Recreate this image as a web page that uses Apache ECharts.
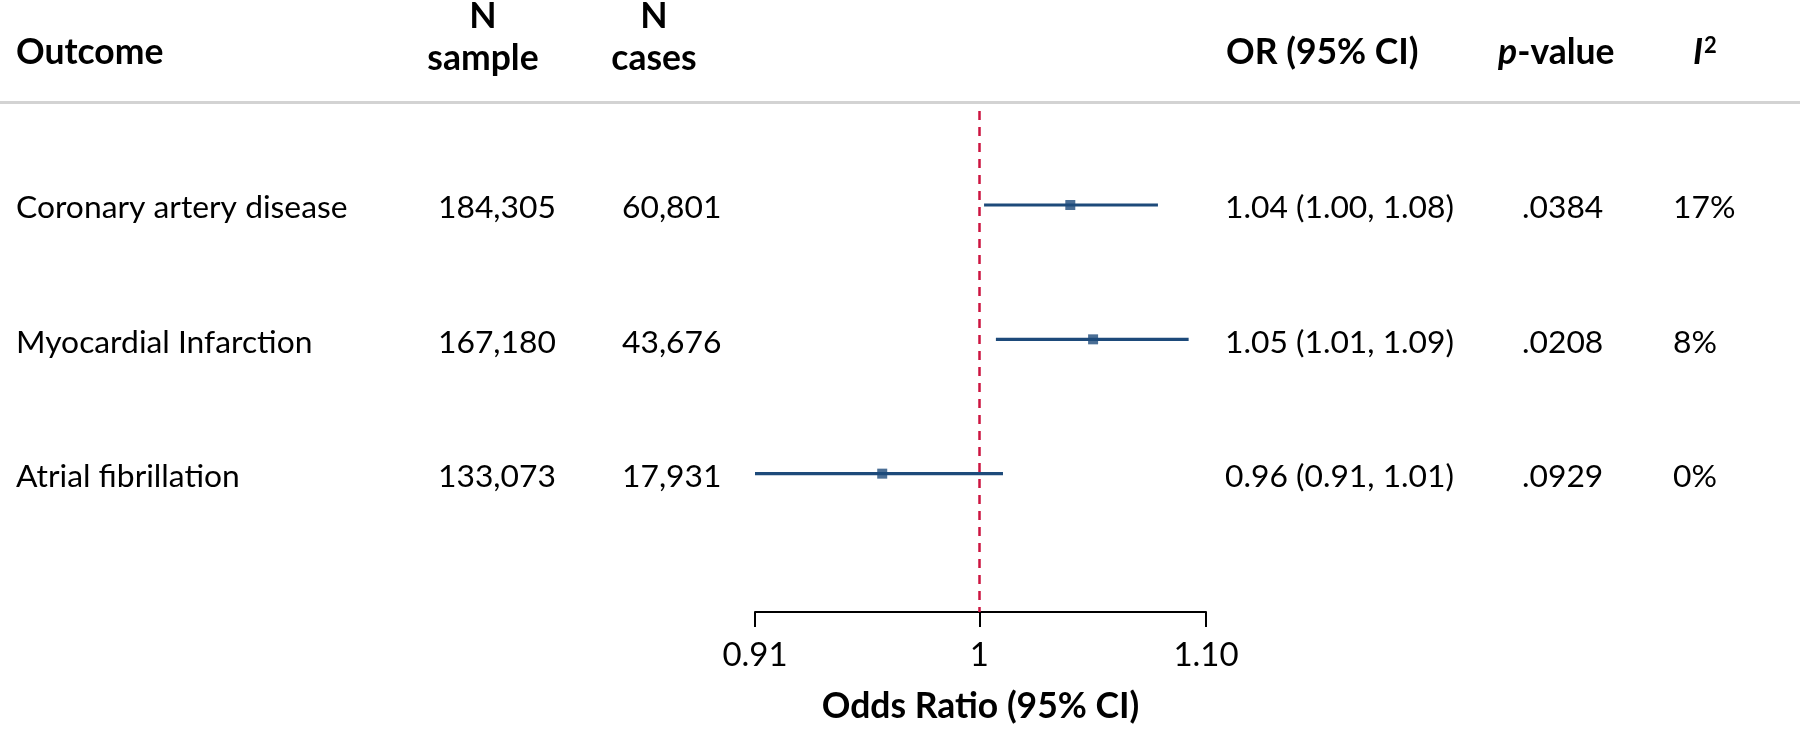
<!DOCTYPE html>
<html>
<head>
<meta charset="utf-8">
<script src="https://cdn.jsdelivr.net/npm/echarts@6/dist/echarts.min.js"></script>
<style>
html,body{margin:0;padding:0;background:#fff;}
#chart{width:1800px;height:730px;}
</style>
</head>
<body>
<div id="chart"></div>
<script>
// ---- data ----
const outcomes = ['Coronary artery disease', 'Myocardial Infarction', 'Atrial fibrillation'];
const nSample = ['184,305', '167,180', '133,073'];
const nCases = ['60,801', '43,676', '17,931'];
const orPoint = [1.039, 1.049, 0.960];
const ciLow = [1.002, 1.007, 0.910];
const ciHigh = [1.078, 1.092, 1.010];
const orText = ['1.04 (1.00, 1.08)', '1.05 (1.01, 1.09)', '0.96 (0.91, 1.01)'];
const pValues = ['.0384', '.0208', '.0929'];
const i2Values = ['17%', '8%', '0%'];
const xTicks = [0.91, 1, 1.10];
const xTickLabels = ['0.91', '1', '1.10'];
const refValue = 1;

// ---- style ----
const FONT = 'Lato';
const FS = 31.8;      // regular text
const FSB = 35.5;     // bold headers
const FSA = 33;       // axis tick labels
const NAVY = '#1d4a7a';
const RED = '#cc1440';

const rowIdx = outcomes.map((_, i) => i + 1);

const colX = { outcome: 16, sample: 438, cases: 622, or: 1225, p: 1522, i2: 1673 };

const chart = echarts.init(document.getElementById('chart'), null, { renderer: 'canvas' });

function txt(x, y, s, extra) {
  return {
    type: 'text', x: x, y: y, silent: true,
    style: Object.assign({ text: s, fill: '#000', font: 'bold ' + FSB + 'px ' + FONT, textAlign: 'left', textVerticalAlign: 'middle' }, extra || {})
  };
}

const option = {
  backgroundColor: '#fff',
  animation: false,
  grid: { left: 755, right: 594, top: 111, bottom: 112, containLabel: false },
  xAxis: {
    type: 'log', logBase: 10, min: 0.91, max: 1.10,
    axisLine: { show: true, lineStyle: { color: '#000', width: 2 } },
    axisTick: { show: true, length: 15, inside: false, lineStyle: { color: '#000', width: 2 }, customValues: xTicks },
    axisLabel: {
      show: true, customValues: xTicks, margin: 27,
      fontFamily: FONT, fontSize: FSA, color: '#000',
      formatter: function (v) {
        let best = 0;
        xTicks.forEach((t, i) => { if (Math.abs(t - v) < Math.abs(xTicks[best] - v)) best = i; });
        return xTickLabels[best];
      }
    },
    splitLine: { show: false },
    minorTick: { show: false },
    name: 'Odds Ratio (95% CI)', nameLocation: 'middle', nameGap: 77,
    nameTextStyle: { fontFamily: FONT, fontWeight: 'bold', fontSize: FSB, color: '#000' }
  },
  yAxis: {
    type: 'value', inverse: true, min: 0.3, max: 4.03, show: false
  },
  graphic: [
    { type: 'rect', shape: { x: 0, y: 101, width: 1800, height: 3 }, style: { fill: '#d3d3d3' }, silent: true },
    txt(colX.outcome, 53, 'Outcome'),
    txt(483, 17, 'N', { textAlign: 'center' }),
    txt(483, 59, 'sample', { textAlign: 'center' }),
    txt(654, 17, 'N', { textAlign: 'center' }),
    txt(654, 59, 'cases', { textAlign: 'center' }),
    txt(1226, 53, 'OR (95% CI)'),
    {
      type: 'text', x: 1498, y: 53, silent: true,
      style: {
        text: '{pi|p}{b|-value}', textAlign: 'left', textVerticalAlign: 'middle',
        rich: {
          pi: { fontFamily: FONT, fontSize: FSB, fontWeight: 'bold', fontStyle: 'italic', fill: '#000' },
          b: { fontFamily: FONT, fontSize: FSB, fontWeight: 'bold', fill: '#000' }
        }
      }
    },
    {
      type: 'text', x: 1693, y: 53, silent: true,
      style: {
        text: '{i|I}{s|2}', textAlign: 'left', textVerticalAlign: 'middle',
        rich: {
          i: { fontFamily: FONT, fontSize: FSB, fontWeight: 'bold', fontStyle: 'italic', fill: '#000' },
          s: { fontFamily: FONT, fontSize: 22, fontWeight: 'bold', fill: '#000', verticalAlign: 'top', padding: [0, 0, 14, 1] }
        }
      }
    }
  ],
  series: [
    {
      type: 'custom', name: 'table',
      data: rowIdx.map(r => [refValue, r]),
      encode: { x: 0, y: 1 },
      clip: false,
      renderItem: function (params, api) {
        const i = params.dataIndex;
        const y = api.coord([api.value(0), api.value(1)])[1] + 3;
        const cells = [
          [colX.outcome, outcomes[i]], [colX.sample, nSample[i]], [colX.cases, nCases[i]],
          [colX.or, orText[i]], [colX.p, pValues[i]], [colX.i2, i2Values[i]]
        ];
        return {
          type: 'group',
          children: cells.map(c => ({
            type: 'text', x: c[0], y: y,
            style: { text: c[1], fill: '#000', font: FS + 'px ' + FONT, textAlign: 'left', textVerticalAlign: 'middle' }
          }))
        };
      }
    },
    {
      type: 'custom', name: 'CI',
      data: rowIdx.map((r, i) => [ciLow[i], ciHigh[i], r]),
      encode: { x: [0, 1], y: 2 },
      renderItem: function (params, api) {
        const p1 = api.coord([api.value(0), api.value(2)]);
        const p2 = api.coord([api.value(1), api.value(2)]);
        return {
          type: 'line',
          shape: { x1: p1[0], y1: p1[1], x2: p2[0], y2: p2[1] },
          style: { stroke: NAVY, lineWidth: 3.2 }
        };
      }
    },
    {
      type: 'scatter', name: 'OR',
      data: rowIdx.map((r, i) => [orPoint[i], r]),
      symbol: 'rect', symbolSize: 10,
      itemStyle: { color: NAVY },
      z: 5,
      markLine: {
        silent: true, symbol: 'none',
        label: { show: false },
        lineStyle: { color: RED, width: 2.5, type: [9, 7] },
        data: [{ xAxis: refValue }]
      }
    }
  ]
};
chart.setOption(option);
</script>
</body>
</html>
